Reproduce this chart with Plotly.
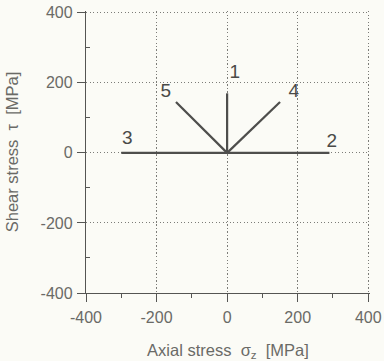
import plotly.graph_objects as go

# Load path endpoints (axial stress, shear stress) in MPa, all starting at origin
path_ids = ["1", "2", "3", "4", "5"]
sigma_end = [0, 290, -300, 150, -145]
tau_end = [170, 0, 0, 145, 145]
label_x = [22, 297, -283, 189, -174]
label_y = [227, 31, 39, 173, 173]

tick_vals = [-400, -200, 0, 200, 400]
tick_text = ["-400", "-200", "0", "200", "400"]
minor_vals = [-300, -100, 100, 300]

line_col = "#4e4e4c"
text_col = "#6a6a66"
bg = "#fbfbf6"
FONT = "Liberation Sans, Arial"

fig = go.Figure()
for i, pid in enumerate(path_ids):
    fig.add_trace(go.Scatter(
        x=[0, sigma_end[i]], y=[0, tau_end[i]], mode="lines",
        line=dict(color=line_col, width=2.2), showlegend=False, hoverinfo="skip"))

fig.add_trace(go.Scatter(
    x=label_x, y=label_y, mode="text", text=path_ids,
    textfont=dict(family=FONT, size=19, color="#4a4a48"),
    showlegend=False, hoverinfo="skip"))

axis_common = dict(
    range=[-400, 405], tickvals=tick_vals, ticktext=tick_text,
    showgrid=True, gridcolor="#7c7c78", griddash="1.3px,2.2px", gridwidth=1.3,
    showline=True, linecolor="#555553", linewidth=1.3,
    ticks="outside", ticklen=8, tickcolor="#555553", tickwidth=1.2,
    zeroline=False, mirror=False, automargin=False,
    tickfont=dict(family=FONT, size=16, color=text_col),
)

fig.update_xaxes(**axis_common,
                 ticklabelstandoff=2,
                 minor=dict(tickvals=minor_vals, ticks="outside", ticklen=4,
                            tickcolor="#555553", showgrid=False),
                 title=dict(text="Axial stress  σ<sub>z</sub>  [MPa]", standoff=20,
                            font=dict(family=FONT, size=16.5, color=text_col)))
fig.update_yaxes(**axis_common,
                 ticklabelstandoff=1,
                 minor=dict(tickvals=minor_vals, ticks="inside", ticklen=4,
                            tickcolor="#555553", showgrid=False),
                 title=dict(text="Shear stress  τ  [MPa]", standoff=17,
                            font=dict(family=FONT, size=16.5, color=text_col)))

fig.update_layout(
    width=384, height=361,
    margin=dict(l=86, r=14, t=11, b=68),
    paper_bgcolor=bg, plot_bgcolor=bg,
)

fig.write_html("out.html")
